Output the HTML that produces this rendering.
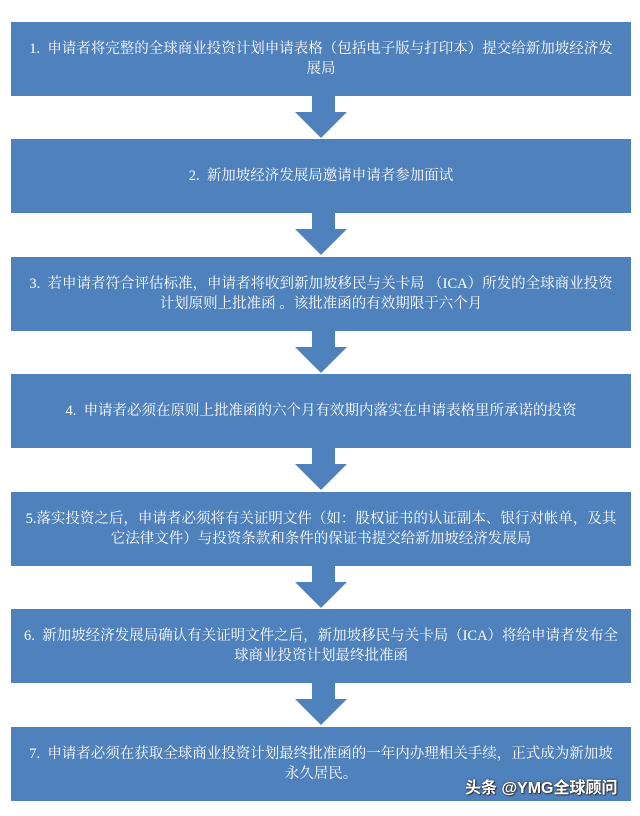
<!DOCTYPE html>
<html><head><meta charset="utf-8"><style>
html,body{margin:0;padding:0;background:#fff;}
body{width:640px;height:816px;position:relative;overflow:hidden;}
.b{position:absolute;left:11px;width:620px;height:74px;background:#4f81bd;color:#fff;
font-family:"Liberation Serif","Noto Serif CJK SC",serif;font-size:14.5px;line-height:20px;
display:flex;align-items:center;justify-content:center;text-align:center;box-sizing:border-box;padding:0 4px;white-space:nowrap;}
.s{position:absolute;left:312px;width:23px;height:17px;background:#4f81bd;}
.h{position:absolute;left:295px;width:0;height:0;border-left:26px solid transparent;border-right:26px solid transparent;border-top:26px solid #4f81bd;}
.wm{position:absolute;left:465px;top:774px;color:#fff;font-family:"Liberation Sans","Noto Sans CJK SC",sans-serif;font-size:16px;font-weight:bold;
text-shadow:0 0 2px #333,1px 1px 1px #333;}
</style></head><body>
<div class="b" style="top:22px"><div>1.&nbsp; 申请者将完整的全球商业投资计划申请表格（包括电子版与打印本）提交给新加坡经济发<br>展局</div></div>
<div class="b" style="top:139px"><div>2.&nbsp; 新加坡经济发展局邀请申请者参加面试</div></div>
<div class="b" style="top:257px"><div>3.&nbsp; 若申请者符合评估标准，申请者将收到新加坡移民与关卡局 （ICA）所发的全球商业投资<br>计划原则上批准函 。该批准函的有效期限于六个月</div></div>
<div class="b" style="top:374px"><div>4.&nbsp; 申请者必须在原则上批准函的六个月有效期内落实在申请表格里所承诺的投资</div></div>
<div class="b" style="top:492px"><div>5.落实投资之后，申请者必须将有关证明文件（如：股权证书的认证副本、银行对帐单，及其<br>它法律文件）与投资条款和条件的保证书提交给新加坡经济发展局</div></div>
<div class="b" style="top:609px"><div>6.&nbsp; 新加坡经济发展局确认有关证明文件之后，新加坡移民与关卡局（ICA）将给申请者发布全<br>球商业投资计划最终批准函</div></div>
<div class="b" style="top:727px"><div>7.&nbsp; 申请者必须在获取全球商业投资计划最终批准函的一年内办理相关手续，正式成为新加坡<br>永久居民。</div></div>

<div class="s" style="top:96px"></div><div class="h" style="top:112px"></div>
<div class="s" style="top:213px"></div><div class="h" style="top:229px"></div>
<div class="s" style="top:331px"></div><div class="h" style="top:347px"></div>
<div class="s" style="top:448px"></div><div class="h" style="top:464px"></div>
<div class="s" style="top:566px"></div><div class="h" style="top:582px"></div>
<div class="s" style="top:683px"></div><div class="h" style="top:699px"></div>
<div class="wm">头条 @YMG全球顾问</div>
</body></html>
